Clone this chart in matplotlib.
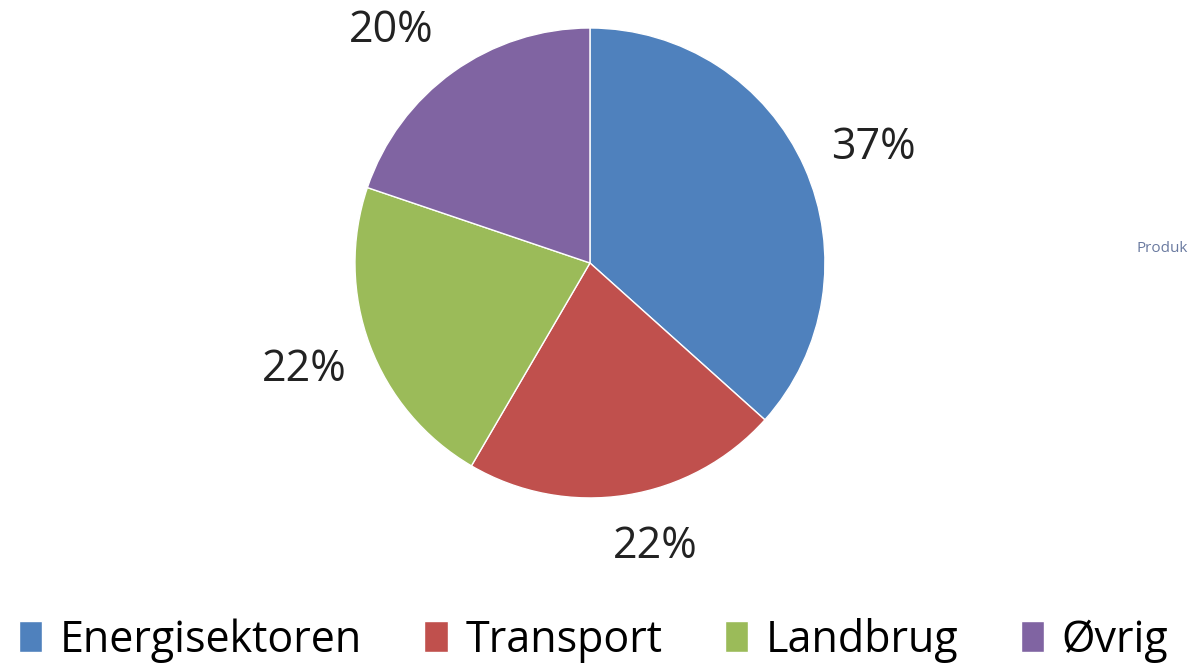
import numpy as np
import matplotlib.pyplot as plt

# data
sectors = ['Energisektoren', 'Transport', 'Landbrug', 'Øvrig']
shares = [37, 22, 22, 20]
share_labels = ['37%', '22%', '22%', '20%']
colors = ['#4F81BD', '#C0504D', '#9BBB59', '#8064A2']

plt.rcParams['font.family'] = ['Open Sans', 'DejaVu Sans']

fig = plt.figure(figsize=(11.94, 6.66), dpi=100)
ax = fig.add_axes([0.2973, 0.2523, 0.3936, 0.7057])

wedges, _ = ax.pie(shares, colors=colors, startangle=90, counterclock=False,
                   wedgeprops=dict(edgecolor='white', linewidth=1))
ax.set_aspect('equal')
ax.set_xlim(-1, 1)
ax.set_ylim(-1, 1)

# percentage labels outside the slices (small per-label nudges like excel's best fit)
label_dist = [1.30, 1.24, 1.30, 1.30]
label_shift = [-2, 4, 0, 5]   # degrees
for w, lab, d, s in zip(wedges, share_labels, label_dist, label_shift):
    mid = np.deg2rad((w.theta1 + w.theta2) / 2 + s)
    ax.text(d * np.cos(mid), d * np.sin(mid), lab, ha='center', va='center',
            fontsize=31, color='#222222', clip_on=False)

fig.legend(wedges, sectors, loc='center', bbox_to_anchor=(0.497, 0.039), ncol=4,
           frameon=False, fontsize=31, handlelength=0.55, handleheight=0.7,
           handletextpad=0.4, columnspacing=1.45)

fig.text(0.952, 1 - 248 / 666, 'Produk', fontsize=11, color='#6a7aa0',
         ha='left', va='center')

fig.savefig('out.png', dpi=100)
